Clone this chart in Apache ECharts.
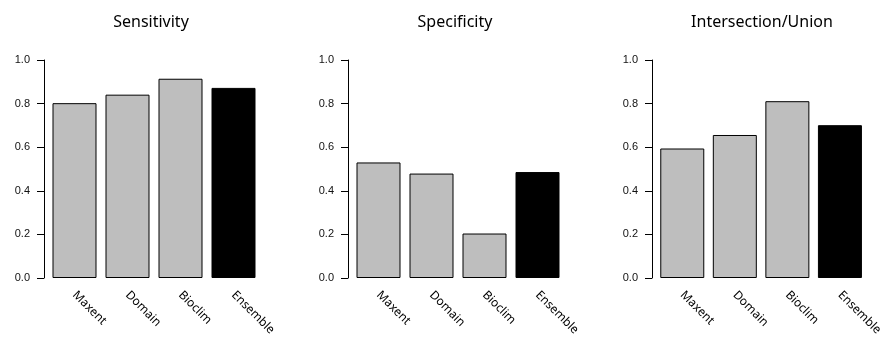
<!DOCTYPE html>
<html>
<head>
<meta charset="utf-8">
<script src="https://cdn.jsdelivr.net/npm/echarts@6/dist/echarts.min.js"></script>
<style>
  html, body { margin: 0; padding: 0; background: #fff; }
  #chart { width: 885px; height: 339px; }
</style>
</head>
<body>
<div id="chart"></div>
<script>
// Model names and scores per metric
const models = ['Maxent', 'Domain', 'Bioclim', 'Ensemble'];
const sensitivity = [0.802, 0.841, 0.914, 0.872];
const specificity = [0.530, 0.479, 0.204, 0.486];
const intersectionUnion = [0.594, 0.656, 0.811, 0.701];
const panelTitles = ['Sensitivity', 'Specificity', 'Intersection/Union'];
const yTicks = [0, 0.2, 0.4, 0.6, 0.8, 1.0];

const panels = [sensitivity, specificity, intersectionUnion];
const gridLefts = [48, 352, 656];
const titleCenters = [151, 455, 762];
const gridWidth = 212;
const gridTop = 60;
const gridHeight = 218;

const barFill = ['#bebebe', '#bebebe', '#bebebe', '#000000'];
const titleFont = '"Noto Sans", "Open Sans", sans-serif';

const option = {
  animation: false,
  backgroundColor: '#ffffff',
  title: panelTitles.map((t, i) => ({
    text: t,
    left: titleCenters[i],
    top: 14,
    padding: 0,
    textAlign: 'center',
    textStyle: { fontFamily: titleFont, fontSize: 16, fontWeight: 'normal', color: '#000' }
  })),
  grid: gridLefts.map(l => ({ left: l, top: gridTop, width: gridWidth, height: gridHeight })),
  xAxis: panels.map((_, i) => ({
    type: 'category',
    gridIndex: i,
    data: models,
    boundaryGap: true,
    axisLine: { show: false },
    axisTick: { show: false },
    axisLabel: {
      rotate: -45,
      margin: 15,
      fontFamily: titleFont,
      fontSize: 12,
      color: '#000'
    }
  })),
  yAxis: panels.map((_, i) => ({
    type: 'value',
    gridIndex: i,
    min: yTicks[0],
    max: yTicks[yTicks.length - 1],
    interval: 0.2,
    offset: 4,
    splitLine: { show: false },
    axisLine: { show: true, lineStyle: { color: '#000', width: 1 } },
    axisTick: { show: true, length: 7, lineStyle: { color: '#000', width: 1 } },
    axisLabel: {
      margin: 14,
      fontFamily: '"Liberation Sans", Arial, sans-serif',
      fontSize: 11,
      color: '#111',
      formatter: v => v.toFixed(1)
    }
  })),
  series: panels.map((vals, i) => ({
    type: 'bar',
    xAxisIndex: i,
    yAxisIndex: i,
    barWidth: 44,
    data: vals.map((v, k) => ({
      value: v,
      itemStyle: { color: barFill[k], borderColor: '#000', borderWidth: 1 }
    }))
  }))
};

const chart = echarts.init(document.getElementById('chart'), null, { renderer: 'canvas' });
chart.setOption(option);
</script>
</body>
</html>
